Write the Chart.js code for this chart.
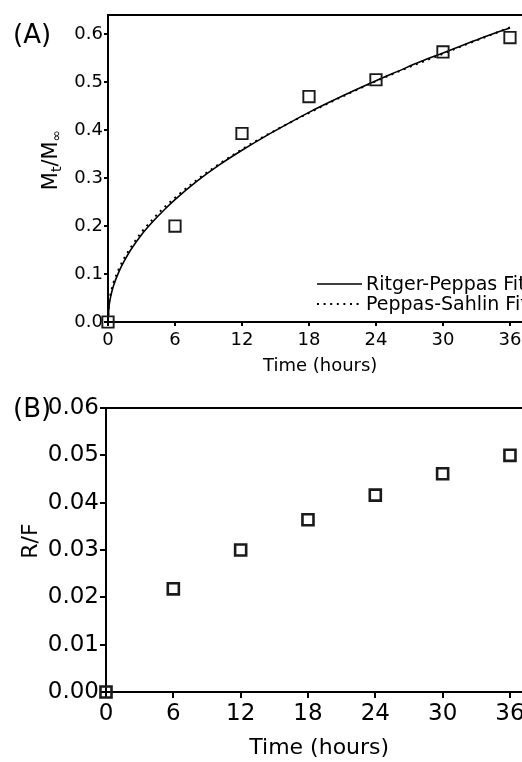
<!DOCTYPE html>
<html>
<head>
<meta charset="utf-8">
<title>Release kinetics</title>
<script src="https://cdn.jsdelivr.net/npm/chart.js@4.4.1/dist/chart.umd.min.js"></script>
<style>
  html, body { margin: 0; padding: 0; background: #fff; overflow: hidden; }
  #page { position: relative; width: 522px; height: 762px; overflow: hidden; background: #fff; }
  canvas { position: absolute; left: 0; }
  #chartA { top: 0; }
  #chartB { top: 380px; }
</style>
</head>
<body>
<div id="page">
  <canvas id="chartA" width="570" height="380"></canvas>
  <canvas id="chartB" width="570" height="390"></canvas>
</div>
<script>
// Measured points (time in hours)
const hours = [0, 6, 12, 18, 24, 30, 36];
const releasedFraction = [0, 0.200, 0.393, 0.470, 0.505, 0.563, 0.593];
const relaxFickRatio = [0, 0.0218, 0.0300, 0.0364, 0.0416, 0.0461, 0.0500];

// Model curves, sampled along the time axis
const fitHours = [0, 0.1, 0.25, 0.5, 1, 1.5, 2, 3, 4, 5, 6, 8, 10, 12, 14, 16, 18, 20, 22, 24, 26, 28, 30, 32, 34, 36];
const ritgerPeppasFit = [0, 0.034, 0.054, 0.076, 0.106, 0.129, 0.149, 0.182, 0.209, 0.233, 0.255, 0.294, 0.328, 0.358, 0.386, 0.412, 0.437, 0.460, 0.482, 0.503, 0.523, 0.543, 0.561, 0.579, 0.597, 0.613];
const peppasSahlinFit = [0, 0.040, 0.060, 0.082, 0.112, 0.135, 0.154, 0.187, 0.214, 0.238, 0.259, 0.297, 0.330, 0.360, 0.387, 0.412, 0.436, 0.459, 0.481, 0.502, 0.522, 0.541, 0.559, 0.578, 0.596, 0.614];

// Tick positions
const hourTicks = [0, 6, 12, 18, 24, 30, 36];
const fractionTicks = [0, 0.1, 0.2, 0.3, 0.4, 0.5, 0.6];
const ratioTicks = [0, 0.01, 0.02, 0.03, 0.04, 0.05, 0.06];

const FONT = '"DejaVu Sans", "Liberation Sans", Arial, sans-serif';

// Panel letters and rotated y titles (runs allow subscripts), keyed by canvas id
const panelDecor = {
    chartA: {
        letter: '(A)', letterX: 13, letterY: 43, letterSize: 26,
        titleX: 57, titleY: 160,
        title: [
            { text: 'M', size: 21, shift: 0 },
            { text: 't', size: 14, shift: 4 },
            { text: '/M', size: 21, shift: 0 },
            { text: '\u221E', size: 14, shift: 4 }
        ]
    },
    chartB: {
        letter: '(B)', letterX: 13, letterY: 37, letterSize: 26,
        titleX: 37, titleY: 161,
        title: [{ text: 'R/F', size: 22, shift: 0 }]
    }
};

function toPoints(xs, ys) {
    return xs.map((x, i) => ({ x: x, y: ys[i] }));
}

// Linear axis with fixed ticks and a fixed thickness, so the plot area lands where we want it
function makeAxis(o) {
    return {
        type: 'linear',
        position: o.position,
        min: o.min,
        max: o.max,
        afterBuildTicks: (scale) => {
            scale.ticks = o.ticks.map(v => ({ value: v }));
        },
        afterFit: (scale) => {
            if (scale.isHorizontal()) {
                scale.height = o.size;
                scale.paddingLeft = 0;
                scale.paddingRight = 0;
            } else {
                scale.width = o.size;
                scale.paddingTop = 0;
                scale.paddingBottom = 0;
            }
        },
        border: { display: true, color: '#000', width: 2 },
        grid: { drawOnChartArea: false, drawTicks: true, tickLength: o.tickLength, color: '#000', lineWidth: 2 },
        ticks: {
            color: '#000',
            font: { family: FONT, size: o.fontSize },
            padding: o.padding,
            autoSkip: false,
            maxRotation: 0,
            callback: o.format
        },
        title: o.title ? {
            display: true,
            text: o.title,
            color: '#000',
            font: { family: FONT, size: o.titleSize },
            padding: { top: 0, bottom: o.titlePad }
        } : { display: false }
    };
}

// Top edge of the frame (the right edge sits past the page)
const topFrame = {
    id: 'topFrame',
    beforeDatasetsDraw(chart) {
        const { ctx, chartArea: a } = chart;
        ctx.save();
        ctx.strokeStyle = '#000';
        ctx.lineWidth = 2;
        ctx.beginPath();
        ctx.moveTo(a.left - 1, a.top);
        ctx.lineTo(a.right, a.top);
        ctx.stroke();
        ctx.restore();
    }
};

const panelText = {
    id: 'panelText',
    afterDraw(chart) {
        const d = panelDecor[chart.canvas.id];
        if (!d) return;
        const ctx = chart.ctx;
        ctx.save();
        ctx.fillStyle = '#000';
        ctx.textBaseline = 'alphabetic';
        ctx.textAlign = 'left';
        ctx.font = d.letterSize + 'px ' + FONT;
        ctx.fillText(d.letter, d.letterX, d.letterY);

        // y title: baseline at titleX, centred on titleY
        ctx.translate(d.titleX, d.titleY);
        ctx.rotate(-Math.PI / 2);
        const widths = d.title.map(r => {
            ctx.font = r.size + 'px ' + FONT;
            return ctx.measureText(r.text).width;
        });
        let x = -widths.reduce((a, b) => a + b, 0) / 2;
        d.title.forEach((r, i) => {
            ctx.font = r.size + 'px ' + FONT;
            ctx.fillText(r.text, x, r.shift);
            x += widths[i];
        });
        ctx.restore();
    }
};

// Legend drawn inside the plot, one row per fitted line
const insetLegend = {
    id: 'insetLegend',
    afterDraw(chart, args, opts) {
        if (!opts.display) return;
        const ctx = chart.ctx;
        ctx.save();
        ctx.font = opts.fontSize + 'px ' + FONT;
        ctx.textBaseline = 'middle';
        ctx.fillStyle = '#000';
        let y = opts.y;
        chart.data.datasets.forEach(ds => {
            if (!ds.showLine) return;
            ctx.strokeStyle = ds.borderColor;
            ctx.lineWidth = ds.borderWidth;
            ctx.setLineDash(ds.borderDash || []);
            ctx.beginPath();
            ctx.moveTo(opts.x, y);
            ctx.lineTo(opts.x + opts.lineLength, y);
            ctx.stroke();
            ctx.setLineDash([]);
            ctx.fillText(ds.label, opts.x + opts.lineLength + 4, y + 1);
            y += opts.rowGap;
        });
        ctx.restore();
    }
};

Chart.register(topFrame, panelText, insetLegend);

const markerStyle = {
    showLine: false,
    pointStyle: 'rect',
    pointBackgroundColor: 'rgba(0,0,0,0)',
    pointBorderColor: '#1a1a1a',
    clip: false
};

// (A) fractional release with both model fits
new Chart(document.getElementById('chartA'), {
    type: 'scatter',
    data: {
        datasets: [
            Object.assign({
                label: 'Data',
                data: toPoints(hours, releasedFraction),
                pointRadius: 8,
                pointBorderWidth: 1.9
            }, markerStyle),
            {
                label: 'Ritger-Peppas Fit',
                data: toPoints(fitHours, ritgerPeppasFit),
                showLine: true,
                borderColor: '#000',
                borderWidth: 1.6,
                pointRadius: 0,
                cubicInterpolationMode: 'monotone'
            },
            {
                label: 'Peppas-Sahlin Fit',
                data: toPoints(fitHours, peppasSahlinFit),
                showLine: true,
                borderColor: '#000',
                borderWidth: 2,
                borderDash: [2, 4.6],
                pointRadius: 0,
                cubicInterpolationMode: 'monotone'
            }
        ]
    },
    options: {
        responsive: false,
        animation: false,
        events: [],
        layout: { padding: { top: 15, right: 37.7, bottom: 0, left: 0 } },
        scales: {
            x: makeAxis({
                position: 'bottom', min: 0, max: 38, ticks: hourTicks, size: 58,
                tickLength: 4, fontSize: 18, padding: 4, format: v => String(v),
                title: 'Time (hours)', titleSize: 18, titlePad: 3
            }),
            y: makeAxis({
                position: 'left', min: 0, max: 0.64, ticks: fractionTicks, size: 108,
                tickLength: 4, fontSize: 18, padding: 1, format: v => v.toFixed(1)
            })
        },
        plugins: {
            legend: { display: false },
            tooltip: { enabled: false },
            insetLegend: { display: true, x: 317, y: 284, lineLength: 45, rowGap: 20, fontSize: 19 }
        }
    }
});

// (B) relaxation / Fickian contribution ratio
new Chart(document.getElementById('chartB'), {
    type: 'scatter',
    data: {
        datasets: [
            Object.assign({
                label: 'R/F',
                data: toPoints(hours, relaxFickRatio),
                pointRadius: 7.8,
                pointBorderWidth: 2.6
            }, markerStyle)
        ]
    },
    options: {
        responsive: false,
        animation: false,
        events: [],
        layout: { padding: { top: 28, right: 37.6, bottom: 0, left: 0 } },
        scales: {
            x: makeAxis({
                position: 'bottom', min: 0, max: 38, ticks: hourTicks, size: 78,
                tickLength: 6, fontSize: 23, padding: 2, format: v => String(v),
                title: 'Time (hours)', titleSize: 22, titlePad: 8.5
            }),
            y: makeAxis({
                position: 'left', min: 0, max: 0.06, ticks: ratioTicks, size: 106,
                tickLength: 6, fontSize: 23, padding: 1, format: v => v.toFixed(2)
            })
        },
        plugins: {
            legend: { display: false },
            tooltip: { enabled: false },
            insetLegend: { display: false }
        }
    }
});
</script>
</body>
</html>
